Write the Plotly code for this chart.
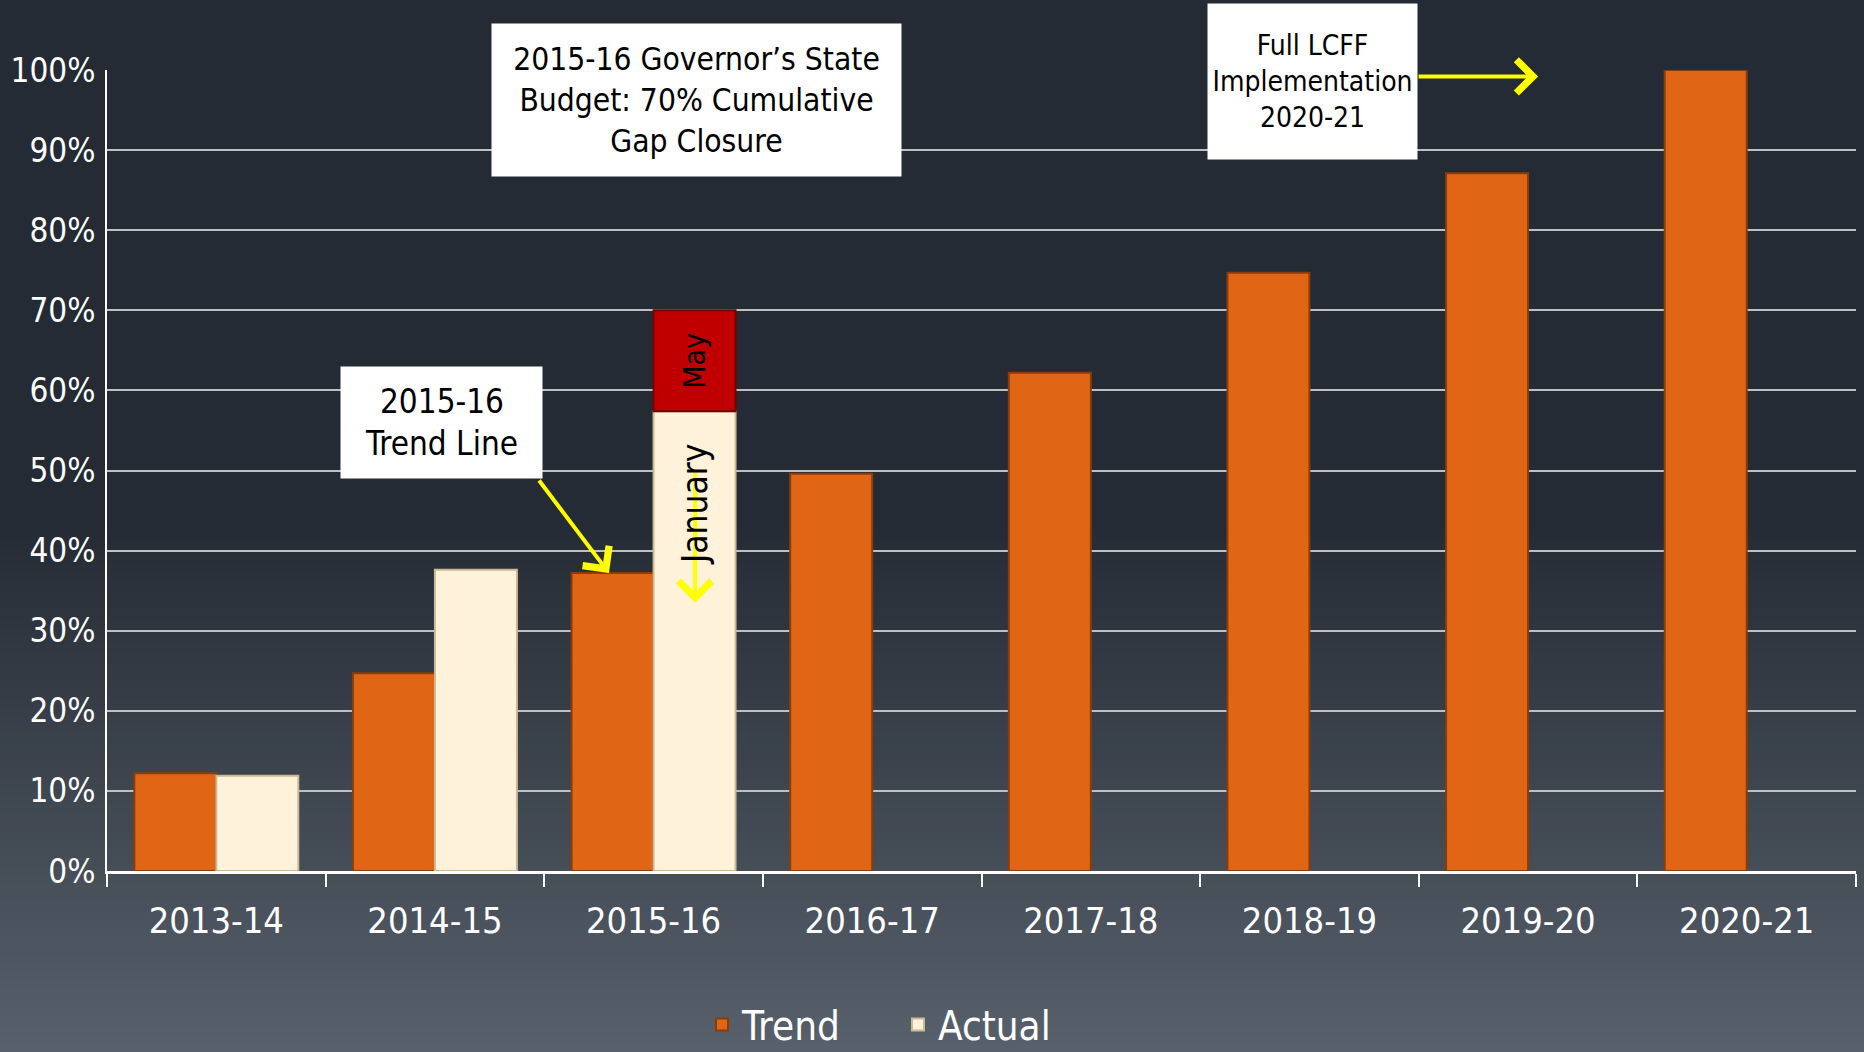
import plotly.graph_objects as go

# ---------------- data ----------------
years = ["2013-14", "2014-15", "2015-16", "2016-17", "2017-18", "2018-19", "2019-20", "2020-21"]
trend = [12.2, 24.7, 37.2, 49.6, 62.2, 74.7, 87.1, 100.0]
actual = [11.9, 37.6, 57.4, None, None, None, None, None]          # January (2015-16)
may_increment = [None, None, 12.6, None, None, None, None, None]   # May addition on top of January
y_ticks = [0, 10, 20, 30, 40, 50, 60, 70, 80, 90, 100]

# ---------------- geometry helpers (page pixels -> paper) ----------------
W, H = 1864, 1052
L, R, T, B = 107, 8, 70, 181
PW, PH = W - L - R, H - T - B


def px_x(p):
    return (p - L) / PW


def px_y(p):
    return (H - B - p) / PH


FONT = "DejaVu Sans Condensed, Liberation Sans Narrow, Arial Narrow, sans-serif"

ORANGE = "#E06616"
CREAM = "#FFF2DA"
RED = "#C00000"

fig = go.Figure()

fig.add_trace(go.Bar(
    x=years, y=trend, name="Trend", offsetgroup="trend",
    marker=dict(color=ORANGE, line=dict(color="#8a3c0a", width=2)),
))
fig.add_trace(go.Bar(
    x=years, y=actual, name="Actual", offsetgroup="actual",
    marker=dict(color=CREAM, line=dict(color="#cbb995", width=2)),
))
fig.add_trace(go.Bar(
    x=years, y=may_increment,
    base=[a if m is not None else None for a, m in zip(actual, may_increment)],
    name="May", offsetgroup="actual", showlegend=False,
    marker=dict(color=RED, line=dict(color="#780000", width=2)),
    text=["May" if m is not None else "" for m in may_increment],
    textposition="inside", insidetextanchor="middle", textangle=-90,
    textfont=dict(family=FONT, size=30, color="black"),
))

# ---------------- background gradient ----------------
shapes = []
top_col = (37, 43, 52)
bot_col = (87, 96, 107)
start_px, n = 520, 60
shapes.append(dict(type="rect", xref="paper", yref="paper", layer="below",
                   x0=px_x(0), x1=px_x(W), y0=px_y(0), y1=px_y(start_px),
                   fillcolor="rgb(%d,%d,%d)" % top_col, line=dict(width=0)))
step = (H - start_px) / n
for i in range(n):
    t = (i + 0.5) / n
    c = tuple(int(round(top_col[k] + (bot_col[k] - top_col[k]) * t)) for k in range(3))
    y0 = start_px + i * step
    shapes.append(dict(type="rect", xref="paper", yref="paper", layer="below",
                       x0=px_x(0), x1=px_x(W), y0=px_y(y0), y1=px_y(y0 + step + 1),
                       fillcolor="rgb(%d,%d,%d)" % c, line=dict(width=0)))

# ---------------- annotations ----------------
ann = []


def box(text, x0, x1, y0, y1, size):
    pad = 4
    return dict(text=text, xref="paper", yref="paper",
                x=px_x((x0 + x1) / 2), y=px_y((y0 + y1) / 2),
                xanchor="center", yanchor="middle", showarrow=False,
                width=(x1 - x0) - 2 * pad, height=(y1 - y0) - 2 * pad, borderpad=pad,
                bgcolor="white", font=dict(family=FONT, size=size, color="black"), align="center")


ann.append(box("2015-16 Governor’s State<br>Budget: 70% Cumulative<br>Gap Closure", 492, 901, 24, 176, 31.5))
ann.append(box("2015-16<br>Trend Line", 341, 542, 367, 478, 33))
ann.append(box("Full LCFF<br>Implementation<br>2020-21", 1208, 1417, 4, 159, 28))

YEL = "#FFFF00"
arrow_style = dict(showarrow=True, arrowhead=4, arrowsize=1.6, arrowwidth=4, arrowcolor=YEL, standoff=0)
# arrow: trend line box -> 2015-16 trend bar
ann.append(dict(text="", x=1.796, y=trend[2], xref="x", yref="y", ax=-71, ay=-94, **arrow_style))
# arrow: Full LCFF box -> 2020-21 bar
ann.append(dict(text="", x=6.046, y=99.2, xref="x", yref="y", ax=-121, ay=0, **arrow_style))
# arrow inside January bar
ann.append(dict(text="", x=2.19, y=33.5, xref="x", yref="y", ax=0, ay=-132, **arrow_style))
# January label
ann.append(dict(text="January", x=2.19, y=45.7, xref="x", yref="y", showarrow=False,
                textangle=-90, font=dict(family=FONT, size=35, color="black")))

fig.update_layout(
    width=W, height=H,
    margin=dict(l=L, r=R, t=T, b=B, autoexpand=False),
    paper_bgcolor="rgb(37,43,52)", plot_bgcolor="rgba(0,0,0,0)",
    barmode="group", bargap=0.25, bargroupgap=0,
    font=dict(family=FONT, color="white"),
    shapes=shapes, annotations=ann,
    showlegend=True,
    legend=dict(orientation="h", x=px_x(702), y=px_y(992), xanchor="left", yanchor="top",
                font=dict(family=FONT, size=40, color="white"), entrywidth=151, entrywidthmode="pixels",
                bgcolor="rgba(0,0,0,0)"),
    xaxis=dict(type="category", categoryorder="array", categoryarray=years,
               showline=True, linecolor="white", linewidth=3,
               ticks="outside", tickson="boundaries", ticklen=13, tickwidth=2, tickcolor="white",
               tickfont=dict(family=FONT, size=36, color="white"), ticklabelstandoff=16, showgrid=False),
    yaxis=dict(range=[0, 100], tickvals=y_ticks, ticktext=["%d%%" % v for v in y_ticks],
               showline=True, linecolor="white", linewidth=2, ticks="",
               showgrid=True, gridcolor="#c0c0c0", gridwidth=2, zeroline=False,
               tickfont=dict(family=FONT, size=33, color="white"), ticklabelstandoff=3),
)

fig.write_html("out.html", config={"displayModeBar": False},
               post_script="document.body.style.margin='0';document.body.style.overflow='hidden';")
